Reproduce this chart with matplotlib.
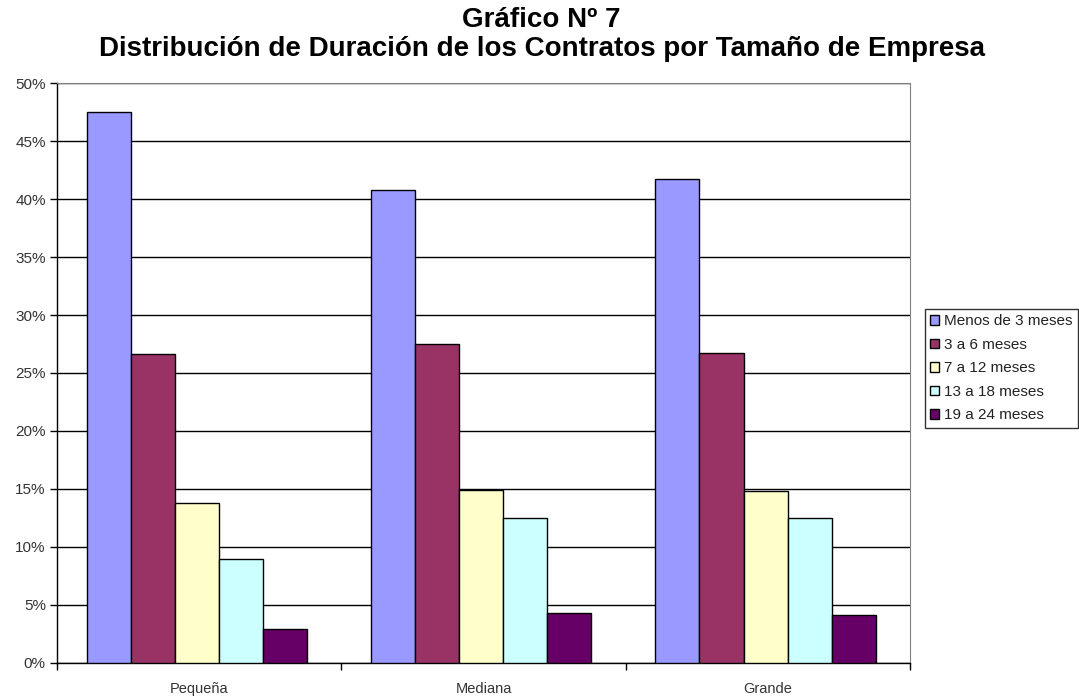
import numpy as np
import matplotlib.pyplot as plt
from matplotlib.ticker import FuncFormatter, MultipleLocator

plt.rcParams['font.family'] = ['Liberation Sans', 'DejaVu Sans']

empresas = ['Pequeña', 'Mediana', 'Grande']
duraciones = ['Menos de 3 meses', '3 a 6 meses', '7 a 12 meses',
              '13 a 18 meses', '19 a 24 meses']

menos_3 = [47.5, 40.8, 41.7]
de_3_a_6 = [26.6, 27.5, 26.7]
de_7_a_12 = [13.8, 14.9, 14.8]
de_13_a_18 = [9.0, 12.5, 12.5]
de_19_a_24 = [2.9, 4.3, 4.1]

series = [menos_3, de_3_a_6, de_7_a_12, de_13_a_18, de_19_a_24]
colors = ['#9999FF', '#993366', '#FFFFCC', '#CCFFFF', '#660066']

fig = plt.figure(figsize=(10.79, 6.97), dpi=100)
ax = fig.add_axes([0.0528, 0.0488, 0.7906, 0.8321])

x = np.arange(len(empresas))
width = 0.155
offsets = (np.arange(len(series)) - 2) * width - 0.008
for vals, off, col, lab in zip(series, offsets, colors, duraciones):
    ax.bar(x + off, vals, width, color=col, edgecolor='black', linewidth=1.0,
           label=lab, zorder=3)

ax.set_xlim(-0.5, 2.5)
ax.set_ylim(0, 50)
ax.yaxis.set_major_locator(MultipleLocator(5))
ax.yaxis.set_major_formatter(FuncFormatter(lambda v, p: f'{v:.0f}%'))
ax.grid(axis='y', color='black', linewidth=1.0, zorder=0)

ax.set_xticks(x)
ax.set_xticklabels(empresas)
ax.set_xticks([-0.5, 0.5, 1.5, 2.5], minor=True)
ax.tick_params(axis='x', which='major', length=0, pad=14, labelsize=10.5,
               labelcolor='#333333')
ax.tick_params(axis='x', which='minor', length=5, direction='out', width=1)
ax.tick_params(axis='y', length=5, direction='out', width=1, labelsize=11,
               labelcolor='#333333', pad=3)

for side in ['top', 'right']:
    ax.spines[side].set_color('#808080')
for side in ['left', 'bottom']:
    ax.spines[side].set_color('black')
    ax.spines[side].set_linewidth(1.0)

fig.suptitle('Gráfico Nº 7\nDistribución de Duración de los Contratos por Tamaño de Empresa',
             x=0.502, y=0.99, fontsize=20, fontweight='bold', linespacing=1.15)

leg = fig.legend(loc='upper left', bbox_to_anchor=(0.857, 1 - 309 / 697), fontsize=11,
                 frameon=True, fancybox=False, edgecolor='black',
                 handlelength=0.6, handleheight=0.6, handletextpad=0.3,
                 labelspacing=0.62, borderpad=0.35, borderaxespad=0)
leg.get_frame().set_linewidth(1.0)
for t in leg.get_texts():
    t.set_color('#222222')

fig.savefig('out.png', dpi=100)
